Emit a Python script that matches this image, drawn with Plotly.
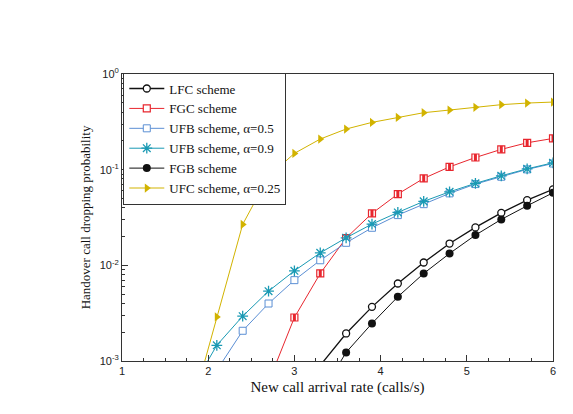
import plotly.graph_objects as go

# ---------------- data ----------------
x_ufc = [1.8, 2.1, 2.4, 2.7, 3.0, 3.3, 3.6, 3.9, 4.2, 4.5, 4.8, 5.1, 5.4, 5.7, 6.0]
y_ufc = [0.0003, 0.00289, 0.0268, 0.085, 0.148, 0.209, 0.266, 0.312, 0.352, 0.394, 0.42, 0.448, 0.478, 0.497, 0.509]

x_fgc = [2.7, 3.0, 3.3, 3.6, 3.9, 4.2, 4.5, 4.8, 5.1, 5.4, 5.7, 6.0]
y_fgc = [0.0006, 0.00285, 0.00823, 0.0193, 0.0349, 0.0556, 0.081, 0.107, 0.134, 0.163, 0.191, 0.212]

x_ufb5 = [2.1, 2.4, 2.7, 3.0, 3.3, 3.6, 3.9, 4.2, 4.5, 4.8, 5.1, 5.4, 5.7, 6.0]
y_ufb5 = [0.0008, 0.00207, 0.00399, 0.0070, 0.0113, 0.0172, 0.0247, 0.0335, 0.0436, 0.0565, 0.0707, 0.0843, 0.1007, 0.116]

x_ufb9 = [1.8, 2.1, 2.4, 2.7, 3.0, 3.3, 3.6, 3.9, 4.2, 4.5, 4.8, 5.1, 5.4, 5.7, 6.0]
y_ufb9 = [0.0005, 0.00146, 0.00294, 0.00537, 0.00877, 0.0135, 0.0194, 0.0270, 0.0357, 0.0466, 0.0587, 0.0719, 0.0863, 0.102, 0.118]

x_lfc = [3.3, 3.6, 3.9, 4.2, 4.5, 4.8, 5.1, 5.4, 5.7, 6.0]
y_lfc = [0.0009, 0.00194, 0.00368, 0.00646, 0.0107, 0.0169, 0.0249, 0.0354, 0.0481, 0.0622]

x_fgb = [3.3, 3.6, 3.9, 4.2, 4.5, 4.8, 5.1, 5.4, 5.7, 6.0]
y_fgb = [0.00044, 0.00123, 0.00247, 0.00469, 0.00822, 0.0133, 0.0207, 0.0302, 0.0419, 0.0573]

x_ticks = [1, 2, 3, 4, 5, 6]
y_tickvals = [1e-3, 1e-2, 1e-1, 1]
y_ticktext = ["10<sup>-3</sup>", "10<sup>-2</sup>", "10<sup>-1</sup>", "10<sup>0</sup>"]

# ---------------- styles ----------------
BLACK = "#111111"
RED = "#e8262e"
BLUE = "#5b8fd4"
TEAL = "#1a9ab4"
YELLOW = "#d2b300"

fig = go.Figure()

fig.add_trace(go.Scatter(
    x=x_lfc, y=y_lfc, name="LFC scheme", mode="lines+markers",
    line=dict(color=BLACK, width=1.3),
    marker=dict(symbol="circle", size=7, color="white", line=dict(color=BLACK, width=1.3))))

fig.add_trace(go.Scatter(
    x=x_fgc, y=y_fgc, name="FGC scheme", mode="lines+markers", legendgroup="fgc",
    line=dict(color=RED, width=1),
    marker=dict(symbol="square", size=7, color="white", line=dict(color=RED, width=1.2))))
fig.add_trace(go.Scatter(
    x=x_fgc, y=y_fgc, mode="markers", legendgroup="fgc", showlegend=False, hoverinfo="skip",
    marker=dict(symbol="line-ns", size=5, line=dict(color=RED, width=3))))

fig.add_trace(go.Scatter(
    x=x_ufb5, y=y_ufb5, name="UFB scheme, \u03b1=0.5", mode="lines+markers",
    line=dict(color=BLUE, width=1),
    marker=dict(symbol="square", size=7, color="white", line=dict(color=BLUE, width=1))))

fig.add_trace(go.Scatter(
    x=x_ufb9, y=y_ufb9, name="UFB scheme, \u03b1=0.9", mode="lines+markers",
    line=dict(color=TEAL, width=1),
    marker=dict(symbol="asterisk-open", size=9, color=TEAL, line=dict(color=TEAL, width=1.3))))

fig.add_trace(go.Scatter(
    x=x_fgb, y=y_fgb, name="FGB scheme", mode="lines+markers",
    line=dict(color=BLACK, width=1),
    marker=dict(symbol="circle", size=8, color=BLACK, line=dict(color=BLACK, width=0))))

fig.add_trace(go.Scatter(
    x=x_ufc, y=y_ufc, name="UFC scheme, \u03b1=0.25", mode="lines+markers",
    line=dict(color=YELLOW, width=1),
    marker=dict(symbol="triangle-right", size=8, color=YELLOW, line=dict(width=0))))

axis_font = dict(family="Liberation Sans, Arial, sans-serif", size=11, color="#222")
serif = "Liberation Serif, Times New Roman, serif"

fig.update_layout(
    width=573, height=414,
    margin=dict(l=122, r=20, t=74, b=53),
    paper_bgcolor="white", plot_bgcolor="white",
    showlegend=True,
    legend=dict(
        x=0.003, y=1.005, xanchor="left", yanchor="top",
        bgcolor="white", bordercolor="#333", borderwidth=1,
        font=dict(family=serif, size=13, color="#111"),
        itemwidth=35, tracegroupgap=0,
    ),
    xaxis=dict(
        range=[1, 6], tickvals=x_ticks, ticktext=[str(v) for v in x_ticks],
        ticks="inside", ticklen=6, tickwidth=1, tickcolor="#333",
        showline=True, linecolor="#333", linewidth=1, mirror=True,
        showgrid=False, zeroline=False, tickfont=axis_font,
        minor=dict(dtick=0.25, ticks="inside", ticklen=3, tickcolor="#333", showgrid=False),
        title=dict(text="New call arrival rate (calls/s)", font=dict(family=serif, size=15, color="#111"), standoff=5),
    ),
    yaxis=dict(
        type="log", range=[-3, 0],
        tickvals=y_tickvals, ticktext=y_ticktext,
        ticks="inside", ticklen=6, tickwidth=1, tickcolor="#333",
        showline=True, linecolor="#333", linewidth=1, mirror=True,
        showgrid=False, zeroline=False, tickfont=axis_font,
        minor=dict(ticks="inside", ticklen=3, tickcolor="#333", showgrid=False,
                   tickvals=[m * 10 ** e for e in (-3, -2, -1) for m in range(2, 10)]),
        title=dict(text="Handover call dropping probability", font=dict(family=serif, size=13, color="#111"), standoff=6),
    ),
)

fig.write_html("out.html")
